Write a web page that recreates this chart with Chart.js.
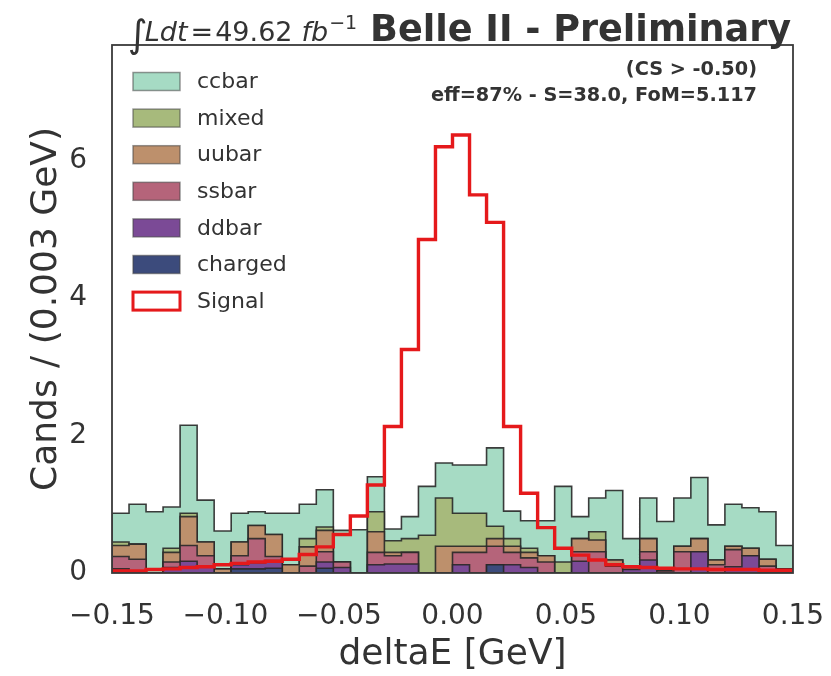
<!DOCTYPE html>
<html>
<head>
<meta charset="utf-8">
<script src="https://cdn.jsdelivr.net/npm/chart.js@4.4.1/dist/chart.umd.min.js"></script>
<style>
  html, body { margin: 0; padding: 0; background: #ffffff; }
  #wrap { width: 831px; height: 676px; }
</style>
</head>
<body>
<div id="wrap"><canvas id="c"></canvas></div>
<script>
// histogram binning (deltaE, GeV)
const binLow = -0.15;
const binHigh = 0.15;
const nBins = 40;

const xTicks = [-0.15, -0.10, -0.05, 0.00, 0.05, 0.10, 0.15];
const yTicks = [0, 2, 4, 6];

// per-bin content of each background, stacked bottom -> top
const charged = [0, 0, 0, 0, 0, 0, 0, 0.06, 0.06, 0.07, 0, 0, 0.07, 0, 0, 0, 0, 0, 0, 0,
  0, 0, 0.12, 0, 0, 0, 0, 0, 0, 0, 0, 0, 0, 0, 0, 0, 0, 0, 0, 0];
const ddbar = [0.06, 0, 0, 0.08, 0.17, 0.10, 0, 0.06, 0.09, 0.11, 0, 0, 0.09, 0.08, 0, 0.12, 0.13, 0.13, 0, 0,
  0.12, 0, 0, 0.12, 0.08, 0, 0, 0.17, 0, 0, 0.05, 0.19, 0, 0, 0.31, 0, 0.09, 0.25, 0, 0];
const ssbar = [0.18, 0.20, 0, 0.08, 0.23, 0.15, 0, 0.13, 0.35, 0.06, 0, 0.10, 0.15, 0.08, 0, 0.18, 0.12, 0.17, 0, 0,
  0.18, 0.30, 0.27, 0.18, 0.14, 0.16, 0, 0.14, 0.31, 0.10, 0, 0.12, 0.03, 0.31, 0, 0.12, 0.25, 0, 0.10, 0];
const uubar = [0.16, 0.22, 0, 0.14, 0.42, 0.20, 0.06, 0.20, 0.19, 0.32, 0.12, 0.28, 0.31, 0, 0, 0.30, 0.05, 0, 0, 0.39,
  0.09, 0.09, 0.11, 0.09, 0.08, 0.09, 0, 0.19, 0.17, 0.09, 0.05, 0.19, 0, 0.08, 0.19, 0.07, 0.05, 0.11, 0.10, 0.06];
const mixed = [0.05, 0, 0, 0.06, 0.05, 0, 0, 0, 0, 0, 0, 0.12, 0.05, 0, 0, 0.29, 0.17, 0.20, 0.55, 0.70,
  0.48, 0.48, 0.18, 0.11, 0.06, 0, 0.16, 0, 0.12, 0, 0, 0, 0, 0, 0, 0, 0, 0, 0, 0];
const ccbar = [0.42, 0.58, 0.89, 0.60, 1.28, 0.61, 0.55, 0.42, 0.20, 0.31, 0.75, 0.50, 0.54, 0.46, 0.63, 0.51, 0.17, 0.32, 0.71, 0.51,
  0.70, 0.70, 1.14, 0.40, 0.40, 0.51, 1.10, 0.32, 0.49, 1.01, 0.40, 0.59, 0.72, 0.70, 0.89, 0.51, 0.61, 0.59, 0.69, 0.34];

// signal MC, drawn as an unstacked step line
const signal = [0.03, 0.03, 0.05, 0.06, 0.08, 0.09, 0.12, 0.14, 0.16, 0.17, 0.20, 0.27, 0.38, 0.56, 0.83, 1.28, 2.13, 3.25, 4.85, 6.20,
  6.37, 5.50, 5.10, 2.13, 1.16, 0.66, 0.36, 0.26, 0.19, 0.12, 0.09, 0.08, 0.07, 0.06, 0.06, 0.05, 0.05, 0.05, 0.04, 0.04];

const layerNames = ['charged', 'ddbar', 'ssbar', 'uubar', 'mixed', 'ccbar'];
const layerValues = [charged, ddbar, ssbar, uubar, mixed, ccbar];
const layerColors = ['#3c4b7c', '#7b4a96', '#b5647a', '#bd906c', '#a7ba7c', '#a6dbc4'];
const edgeColor = 'rgba(40,40,40,0.9)';
const signalColor = '#e5191b';
const textColor = '#333333';
const fontFamily = '"DejaVu Sans", sans-serif';

const edges = [];
for (let i = 0; i <= nBins; i++) edges.push(binLow + (binHigh - binLow) * i / nBins);

// histogram outline as stepped points: value i holds from edge i to edge i+1
function stepPoints(vals) {
  const pts = [{ x: edges[0], y: 0 }];
  vals.forEach((v, i) => pts.push({ x: edges[i], y: v }));
  pts.push({ x: edges[nBins], y: vals[nBins - 1] });
  pts.push({ x: edges[nBins], y: 0 });
  return pts;
}

// cumulative tops of the stack
const stackTops = [];
let running = new Array(nBins).fill(0);
layerValues.forEach(vals => {
  running = running.map((v, i) => v + vals[i]);
  stackTops.push(running.slice());
});

const datasets = [{
  label: 'Signal',
  data: stepPoints(signal),
  stepped: true,
  borderColor: signalColor,
  borderWidth: 3.4,
  backgroundColor: '#ffffff',
  fill: false,
  pointRadius: 0,
}];
layerNames.forEach((name, k) => {
  datasets.push({
    label: name,
    data: stepPoints(stackTops[k]),
    stepped: true,
    borderColor: edgeColor,
    borderWidth: 1.6,
    backgroundColor: layerColors[k],
    fill: 'origin',
    pointRadius: 0,
  });
});

const fmtTick = v => {
  if (Math.abs(v) < 1e-9) return '0.00';
  return v.toFixed(2).replace('-', '\u2212');
};

const decorations = {
  id: 'decorations',
  afterDatasetsDraw(chart) {
    const { ctx, chartArea: a } = chart;
    ctx.save();
    ctx.strokeStyle = '#3a3a3a';
    ctx.lineWidth = 1.8;
    ctx.strokeRect(a.left, a.top, a.right - a.left, a.bottom - a.top);
    ctx.restore();
  },
  afterDraw(chart) {
    const { ctx } = chart;
    ctx.save();
    ctx.fillStyle = textColor;
    ctx.textBaseline = 'alphabetic';

    // luminosity label in math style
    let x = 128;
    const base = 41;
    ctx.font = `38px ${fontFamily}`;
    ctx.fillText('\u222B', x, base + 6);
    x += ctx.measureText('\u222B').width - 3;
    ctx.font = `italic 27px ${fontFamily}`;
    ctx.fillText('Ldt', x, base);
    x += ctx.measureText('Ldt').width + 3;
    ctx.font = `27px ${fontFamily}`;
    ctx.fillText('=', x, base);
    x += ctx.measureText('=').width + 2;
    ctx.fillText('49.62', x, base);
    x += ctx.measureText('49.62').width + 9;
    ctx.font = `italic 27px ${fontFamily}`;
    ctx.fillText('fb', x, base);
    x += ctx.measureText('fb').width + 1;
    ctx.font = `19px ${fontFamily}`;
    ctx.fillText('\u22121', x, base - 12);

    ctx.font = `bold 36.6px ${fontFamily}`;
    ctx.fillText('Belle II - Preliminary', 370, base);

    // selection info, top right
    ctx.textAlign = 'right';
    ctx.textBaseline = 'middle';
    ctx.font = `bold 100px ${fontFamily}`;
    const line2 = 'eff=87% - S=38.0, FoM=5.117';
    const sz = 100 * 327 / ctx.measureText(line2).width;
    ctx.font = `bold ${sz.toFixed(1)}px ${fontFamily}`;
    ctx.fillText('(CS > -0.50)', 757, 70);
    ctx.fillText(line2, 757, 96);

    // legend
    ctx.textAlign = 'left';
    const rows = [
      { name: 'ccbar', fill: layerColors[5] },
      { name: 'mixed', fill: layerColors[4] },
      { name: 'uubar', fill: layerColors[3] },
      { name: 'ssbar', fill: layerColors[2] },
      { name: 'ddbar', fill: layerColors[1] },
      { name: 'charged', fill: layerColors[0] },
      { name: 'Signal', fill: '#ffffff', edge: signalColor },
    ];
    ctx.font = `22px ${fontFamily}`;
    rows.forEach((r, i) => {
      const cy = 81.5 + 36.6 * i;
      ctx.fillStyle = r.fill;
      ctx.fillRect(133, cy - 9, 47, 18);
      if (r.edge) {
        ctx.strokeStyle = r.edge;
        ctx.lineWidth = 3;
      } else {
        ctx.strokeStyle = 'rgba(70,70,70,0.55)';
        ctx.lineWidth = 1.5;
      }
      ctx.strokeRect(133, cy - 9, 47, 18);
      ctx.fillStyle = textColor;
      ctx.fillText(r.name, 197, cy + 1);
    });
    ctx.restore();
  },
};

new Chart(document.getElementById('c').getContext('2d'), {
  type: 'line',
  data: { datasets },
  plugins: [decorations],
  options: {
    responsive: true,
    maintainAspectRatio: false,
    animation: false,
    layout: { padding: { top: 45, right: 38, left: 0, bottom: 0 } },
    plugins: {
      legend: { display: false },
      tooltip: { enabled: false },
    },
    scales: {
      x: {
        type: 'linear',
        min: binLow,
        max: binHigh,
        grid: { display: false },
        border: { display: false },
        afterBuildTicks: s => { s.ticks = xTicks.map(v => ({ value: v })); },
        afterFit: s => { s.height = 103; s.paddingLeft = 0; s.paddingRight = 0; },
        ticks: {
          color: textColor,
          padding: 19,
          maxRotation: 0,
          autoSkip: false,
          font: { family: fontFamily, size: 28 },
          callback: v => fmtTick(v),
        },
        title: {
          display: true,
          text: 'deltaE [GeV]',
          color: textColor,
          padding: { top: 0, bottom: 0 },
          font: { family: fontFamily, size: 36 },
        },
      },
      y: {
        type: 'linear',
        min: 0,
        max: 7.68,
        grid: { display: false },
        border: { display: false },
        afterBuildTicks: s => { s.ticks = yTicks.map(v => ({ value: v })); },
        afterFit: s => { s.width = 112; s.paddingTop = 0; s.paddingBottom = 0; },
        ticks: {
          color: textColor,
          padding: 17,
          font: { family: fontFamily, size: 28 },
          callback: v => String(v),
        },
        title: {
          display: true,
          text: 'Cands / (0.003 GeV)',
          color: textColor,
          padding: { top: 25, bottom: 0 },
          font: { family: fontFamily, size: 36 },
        },
      },
    },
  },
});
</script>
</body>
</html>
